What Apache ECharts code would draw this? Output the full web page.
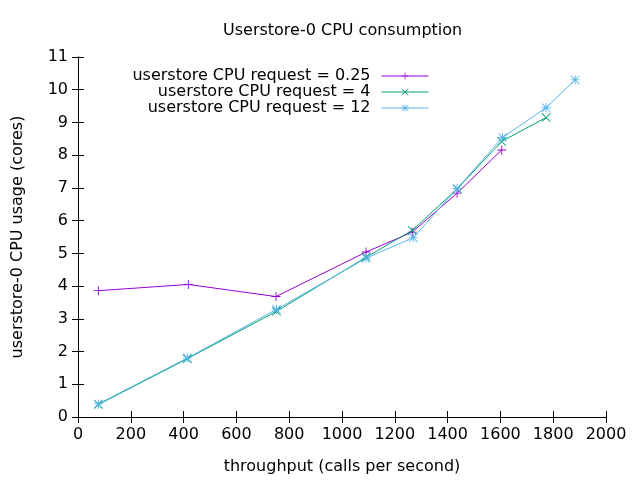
<!DOCTYPE html>
<html><head><meta charset="utf-8">
<script src="https://cdn.jsdelivr.net/npm/echarts@6/dist/echarts.min.js"></script>
<style>html,body{margin:0;padding:0;background:#fff}#c{width:640px;height:480px}</style>
</head><body><div id="c"></div>
<script>
const seriesNames = ['userstore CPU request = 0.25','userstore CPU request = 4','userstore CPU request = 12'];
const req025 = [[77,3.86],[418,4.05],[750,3.68],[1091,5.04],[1266,5.65],[1436,6.84],[1605,8.16]];
const req4 = [[77,0.38],[414,1.78],[752,3.23],[1091,4.88],[1266,5.70],[1436,6.97],[1605,8.42],[1773,9.15]];
const req12 = [[77,0.40],[414,1.80],[752,3.29],[1091,4.85],[1270,5.48],[1436,6.98],[1608,8.54],[1773,9.45],[1883,10.30]];
const xTicks = {min:0,max:2000,interval:200};
const yTicks = {min:0,max:11,interval:1};
const colors = ['#9400d3','#009e73','#56b4e9'];
const FONT = 'DejaVu Sans';
const FS = 16;
const plus = 'path://M0,4.5H10V5.5H0Z M4.5,0H5.5V10H4.5Z';
const cross = 'path://M0,0.7L0.7,0L5,4.3L9.3,0L10,0.7L5.7,5L10,9.3L9.3,10L5,5.7L0.7,10L0,9.3L4.3,5Z';
const star = 'path://M0,4.5H10V5.5H0Z M4.5,0H5.5V10H4.5Z M0,0.7L0.7,0L5,4.3L9.3,0L10,0.7L5.7,5L10,9.3L9.3,10L5,5.7L0.7,10L0,9.3L4.3,5Z';
const symbols = [plus, cross, star];
const datas = [req025, req4, req12];
const chart = echarts.init(document.getElementById('c'));
const axLine = {show:true, lineStyle:{color:'#000', width:1}};
const baseX = {type:'value', min:xTicks.min, max:xTicks.max, interval:xTicks.interval, axisLine:axLine, splitLine:{show:false}, axisTick:{inside:true,length:6,lineStyle:{color:'#000'}}};
const baseY = {type:'value', min:yTicks.min, max:yTicks.max, interval:yTicks.interval, axisLine:axLine, splitLine:{show:false}, axisTick:{inside:true,length:6,lineStyle:{color:'#000'}}};
chart.setOption({
  animation:false,
  color: colors,
  textStyle:{fontFamily:FONT},
  title:{text:'Userstore-0 CPU consumption', left:218, top:18, textStyle:{fontFamily:FONT, fontSize:FS, fontWeight:'normal', color:'#000'}},
  legend:{orient:'vertical', align:'right', right:206, top:63, itemWidth:47, itemHeight:9, itemGap:0,
    lineStyle:{width:1}, itemStyle:{borderWidth:0},
    textStyle:{fontFamily:FONT, fontSize:FS, color:'#000', padding:[0,6,0,0]}, data:seriesNames},
  grid:{left:78, right:34, top:57, bottom:62},
  xAxis:[Object.assign({}, baseX, {position:'bottom', name:'throughput (calls per second)', nameLocation:'middle', nameGap:42,
      nameTextStyle:{fontFamily:FONT, fontSize:FS, color:'#000'},
      axisLabel:{fontFamily:FONT, fontSize:FS, color:'#000', margin:10, formatter:v=>String(v)}}),
    Object.assign({}, baseX, {position:'top', axisLabel:{show:false}})],
  yAxis:[Object.assign({}, baseY, {position:'left', name:'userstore-0 CPU usage (cores)', nameLocation:'middle', nameGap:52,
      nameTextStyle:{fontFamily:FONT, fontSize:FS, color:'#000'},
      axisLabel:{fontFamily:FONT, fontSize:FS, color:'#000', margin:10}}),
    Object.assign({}, baseY, {position:'right', axisLabel:{show:false}})],
  series: seriesNames.map((n,i)=>({
    name:n, type:'line', data:datas[i], symbol:symbols[i], symbolSize:9, showSymbol:true,
    lineStyle:{width:1, color:colors[i]}, itemStyle:{color:colors[i]}
  }))
});
</script></body></html>
